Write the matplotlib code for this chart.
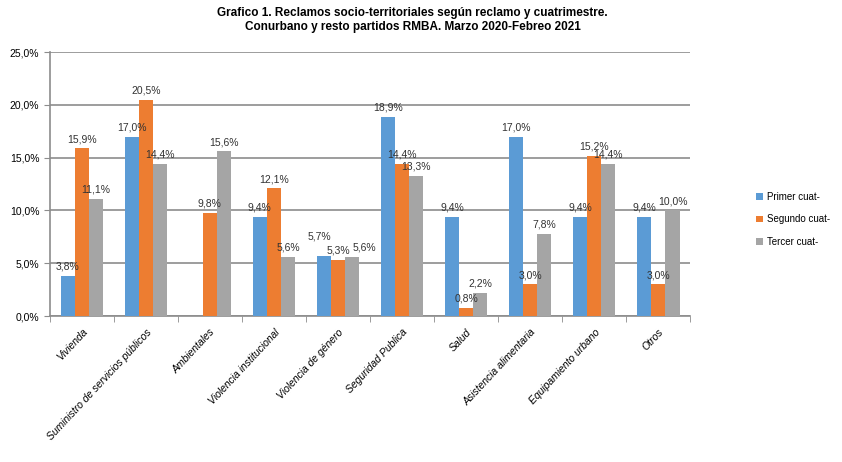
import numpy as np
import matplotlib.pyplot as plt

categorias = ["Vivienda", "Suministro de servicios públicos", "Ambientales",
              "Violencia institucional", "Violencia de género", "Seguridad Publica",
              "Salud", "Asistencia alimentaria", "Equipamiento urbano", "Otros"]
primer = [3.8, 17.0, 0.0, 9.4, 5.7, 18.9, 9.4, 17.0, 9.4, 9.4]
segundo = [15.9, 20.5, 9.8, 12.1, 5.3, 14.4, 0.8, 3.0, 15.2, 3.0]
tercer = [11.1, 14.4, 15.6, 5.6, 5.6, 13.3, 2.2, 7.8, 14.4, 10.0]
series = ["Primer cuat-", "Segundo cuat-", "Tercer cuat-"]
colores = ["#5B9BD5", "#ED7D31", "#A5A5A5"]

# desplazamiento de etiquetas (puntos) para que no se pisen
ajustes = {(4, 0): (-3, 7), (4, 2): (9, 0)}

plt.rcParams['font.family'] = ['Liberation Sans', 'DejaVu Sans']

fig = plt.figure(figsize=(8.42, 4.62), dpi=100)
ax = fig.add_axes([0.059, 0.316, 0.761, 0.571])

x = np.arange(len(categorias))
w = 0.22
for i, (vals, nombre, c) in enumerate(zip([primer, segundo, tercer], series, colores)):
    pos = x + (i - 1) * w
    ax.bar(pos, vals, w, color=c, label=nombre, zorder=3)
    for j, (p, v) in enumerate(zip(pos, vals)):
        if v == 0:
            continue  # sin dato en Ambientales
        dx, dy = ajustes.get((j, i), (0, 0))
        ax.annotate(f"{v:.1f}%".replace(".", ","), (p, v), xytext=(dx, 3 + dy),
                    textcoords="offset points", ha="center", va="bottom",
                    fontsize=7.5, color="#333333", zorder=4)

ax.set_xlim(-0.5, len(categorias) - 0.5)
ax.set_ylim(0, 25)
ax.set_yticks(np.arange(0, 26, 5))
ax.set_yticklabels([f"{t:.1f}%".replace(".", ",") for t in np.arange(0, 26, 5)], fontsize=7.5)
ax.yaxis.grid(True, color="#8C8C8C", linewidth=1.2, zorder=0)
ax.set_axisbelow(True)

ax.set_xticks(x)
ax.set_xticklabels(categorias, rotation=47, ha="right", rotation_mode="anchor",
                   fontsize=7.5, style="italic")
ax.tick_params(axis="x", length=0, pad=8)
ax.set_xticks(np.arange(-0.5, len(categorias)), minor=True)
ax.tick_params(axis="x", which="minor", length=4, color="#8C8C8C")
ax.tick_params(axis="y", length=4, color="#8C8C8C")

for s in ["top", "right"]:
    ax.spines[s].set_visible(False)
for s in ["left", "bottom"]:
    ax.spines[s].set_color("#8C8C8C")
    ax.spines[s].set_linewidth(1.2)

fig.suptitle("Grafico 1. Reclamos socio-territoriales según reclamo y cuatrimestre.\n"
             "Conurbano y resto partidos RMBA. Marzo 2020-Febreo 2021",
             fontsize=8.5, fontweight="bold", y=0.985, x=0.49)

fig.legend(loc="center left", bbox_to_anchor=(0.898, 0.525), frameon=False,
           fontsize=7, handlelength=0.7, handleheight=0.7, labelspacing=1.3,
           handletextpad=0.4, borderaxespad=0, borderpad=0)

fig.savefig("out.png", dpi=100)
